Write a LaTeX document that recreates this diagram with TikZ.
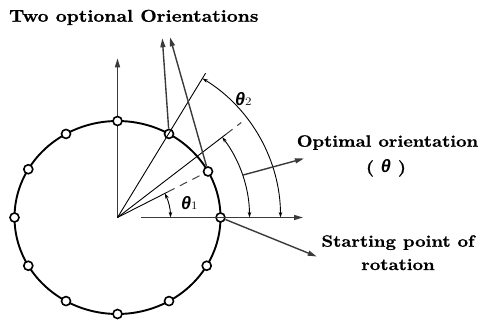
\documentclass[tikz,border=0pt]{standalone}
\usepackage{fontspec}
\setmainfont{Latin Modern Roman}[FakeStretch=1.14,BoldFeatures={FakeBold=1.2}]
\newfontfamily\thf{Liberation Sans}
\usetikzlibrary{arrows.meta,calc}
\definecolor{arrgray}{HTML}{3A3A3A}
\tikzset{
  ringpt/.style={circle,draw=black,fill=white,line width=1.6pt,minimum size=9pt,inner sep=0pt},
  grayarrow/.style={draw=arrgray,line width=1.4pt,-{Triangle[length=9pt,width=5pt]}},
  thinline/.style={draw=black,line width=0.9pt},
  dashline/.style={draw=black!75,line width=1pt,dash pattern=on 8pt off 6pt},
  angarc/.style={draw=black,line width=0.9pt,{Stealth[length=5.5pt,width=3.5pt]}-{Stealth[length=5.5pt,width=3.5pt]}},
  lab/.style={font=\bfseries\fontsize{16.3}{19}\selectfont,anchor=base,inner sep=0pt},
  thlab/.style={anchor=base west,inner sep=0pt}
}
\newcommand{\thsym}{{\thf\bfseries\itshape\fontsize{18}{18}\selectfont θ}}
\newcommand{\thsub}[1]{{\fontsize{11.5}{11}\selectfont #1}}
\begin{document}
\begin{tikzpicture}[x=1pt,y=1pt]
\useasboundingbox (0,0) rectangle (481,324);
\coordinate (C) at (117.5,106.5);
% vertical axis (under the ring points)
\coordinate (vTip) at (117.5,265.7);
\draw[grayarrow] (C) -- (vTip);
% ring
\draw[line width=1.9pt] (C) ellipse [x radius=103, y radius=96.5];
\foreach \t/\n in {0/n0,28.5/n30,60/n60,90/n90,120/n120,150/n150,180/n180,210/n210,240/n240,270/n270,300/n300,330/n330}
  \node[ringpt] (\n) at ([shift={(\t:103 and 96.5)}]C) {};
% free ends
\coordinate (t60) at (162.3,285.7);
\coordinate (t30) at (170,286.7);
\coordinate (hStart) at (141,106.5);
\coordinate (hTip) at (303,106.5);
\coordinate (sTip) at (316.7,67.5);
\coordinate (oTip) at (304,165.5);
\coordinate (l60) at ($(C)+(58.6:169)$);
\coordinate (l38a) at ($(C)+(37.5:137)$);
\coordinate (l38b) at ($(C)+(37.5:156)$);
\coordinate (l27) at ($(C)!56pt!(n30)$);
\coordinate (oStart) at ($(C)+(18.7:132)$);
% lines from centre
\draw[thinline] (C) -- (l60);
\draw[thinline] (C) -- (l38a);
\draw[dashline] (l38a) -- (l38b);
\draw[thinline] (C) -- (l27);
\draw[dashline] (l27) -- (n30);
% horizontal axis
\draw[grayarrow,line width=1.3pt] (hStart) -- (hTip);
% angle arcs
\draw[angarc] ([shift={(0:53)}]C) arc[start angle=0,end angle=27,radius=53];
\draw[angarc] ([shift={(0:132)}]C) arc[start angle=0,end angle=37.5,radius=132];
\draw[angarc] ([shift={(0:163)}]C) arc[start angle=0,end angle=58.6,radius=163];
% gray pointer arrows
\draw[grayarrow] (n60) -- (t60);
\draw[grayarrow] (n30) -- (t30);
\draw[grayarrow] (n0) -- (sTip);
\draw[grayarrow] (oStart) -- (oTip);
% labels
\node[lab,font=\bfseries\fontsize{17}{20}\selectfont] (title) at (133.8,302.3) {Two optional Orientations};
\node[lab] (opt) at (387.5,177.3) {Optimal orientation};
\node[lab] (optth) at (386,151.5) {( \thsym\ )};
\node[lab] (start) at (398,77.3) {Starting point of};
\node[lab] (rot) at (398,54) {rotation};
\node[thlab] (th1) at (181,114.5) {\thsym\thsub{1}};
\node[thlab] (th2) at (235,218.5) {\thsym\thsub{2}};
\end{tikzpicture}
\end{document}
